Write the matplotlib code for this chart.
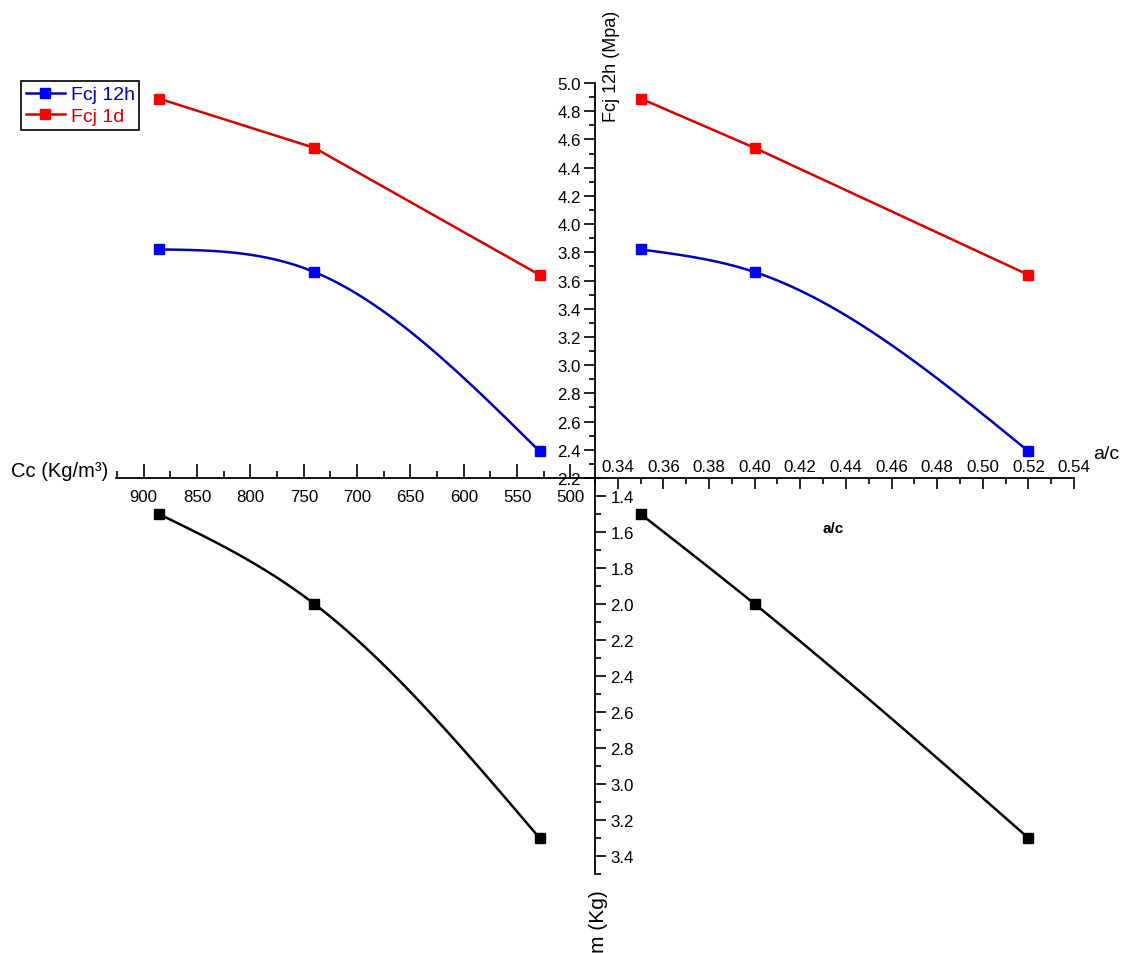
import numpy as np
import matplotlib
matplotlib.use('Agg')
import matplotlib.pyplot as plt
from matplotlib.lines import Line2D
from matplotlib.ticker import MultipleLocator, FormatStrFormatter

plt.rcParams['font.family'] = ['Liberation Sans', 'DejaVu Sans']

# values
ac = [0.35, 0.40, 0.52]          # a/c ratio
cc = [886, 740, 529]             # Cc (Kg/m3)
fcj_12h = [3.82, 3.66, 2.39]     # Mpa
fcj_1d = [4.89, 4.54, 3.64]      # Mpa
mass = [1.50, 2.00, 3.30]        # m (Kg)

ac_lim = (0.33, 0.54)
cc_lim = (926, 477)
fcj_lim = (2.2, 5.0)
m_lim = (3.5, 1.3)

BLUE, BLUE_M = '#0000b8', '#0000ff'
RED, RED_M = '#d40000', '#ff0000'
TICK_FS = 12.2
W, H = 1129, 954


def spline(x, y, n=80):
    # natural cubic spline through the points, like Origin's "Spline" connect
    x = np.asarray(x, float)
    y = np.asarray(y, float)
    order = np.argsort(x)
    x, y = x[order], y[order]
    h = np.diff(x)
    k = len(x)
    A = np.zeros((k, k))
    b = np.zeros(k)
    A[0, 0] = A[-1, -1] = 1
    for i in range(1, k - 1):
        A[i, i - 1] = h[i - 1]
        A[i, i] = 2 * (h[i - 1] + h[i])
        A[i, i + 1] = h[i]
        b[i] = 6 * ((y[i + 1] - y[i]) / h[i] - (y[i] - y[i - 1]) / h[i - 1])
    M = np.linalg.solve(A, b)
    xs = np.linspace(x[0], x[-1], n)
    i = np.clip(np.searchsorted(x, xs) - 1, 0, k - 2)
    t1 = x[i + 1] - xs
    t0 = xs - x[i]
    hi = h[i]
    ys = ((M[i] * t1**3 + M[i + 1] * t0**3) / (6 * hi)
          + (y[i] / hi - M[i] * hi / 6) * t1
          + (y[i + 1] / hi - M[i + 1] * hi / 6) * t0)
    return xs, ys


fig = plt.figure(figsize=(W / 100, H / 100), dpi=100)
fig.patch.set_facecolor('white')


def box(x0, y0, x1, y1):
    # pixel box (top-left origin) -> axes
    ax = fig.add_axes([x0 / W, 1 - y1 / H, (x1 - x0) / W, (y1 - y0) / H])
    ax.patch.set_visible(False)
    for s in ax.spines.values():
        s.set_visible(False)
        s.set_linewidth(1.3)
    ax.tick_params(which='both', bottom=False, top=False, left=False, right=False,
                   labelbottom=False, labeltop=False, labelleft=False, labelright=False,
                   width=1.2, labelsize=TICK_FS)
    return ax


def px(x, y):
    return x / W, 1 - y / H


cx, cy = 595, 479
tl = box(116, 84, cx, cy)
tr = box(cx, 84, 1074, cy)
bl = box(116, cy, cx, 875)
br = box(cx, cy, 1074, 875)

for ax in (tl, bl):
    ax.set_xlim(*cc_lim)
for ax in (tr, br):
    ax.set_xlim(*ac_lim)
for ax in (tl, tr):
    ax.set_ylim(*fcj_lim)
for ax in (bl, br):
    ax.set_ylim(*m_lim)

# top-right: Fcj vs a/c
tr.spines['left'].set_visible(True)
tr.spines['top'].set_visible(True)
tr.spines['top'].set_position(('axes', 0))
tr.xaxis.set_major_locator(MultipleLocator(0.02))
tr.xaxis.set_minor_locator(MultipleLocator(0.01))
tr.xaxis.set_major_formatter(FormatStrFormatter('%.2f'))
tr.tick_params(axis='x', which='both', top=True, labeltop=True, direction='in', pad=3)
tr.tick_params(axis='x', which='major', length=8)
tr.tick_params(axis='x', which='minor', length=4)
tr.yaxis.set_major_locator(MultipleLocator(0.2))
tr.yaxis.set_minor_locator(MultipleLocator(0.1))
tr.yaxis.set_major_formatter(FormatStrFormatter('%.1f'))
tr.tick_params(axis='y', which='both', left=True, labelleft=True, direction='out', pad=2)
tr.tick_params(axis='y', which='major', length=8)
tr.tick_params(axis='y', which='minor', length=4)

# top-left: Cc axis
tl.spines['bottom'].set_visible(True)
tl.xaxis.set_major_locator(MultipleLocator(50))
tl.xaxis.set_minor_locator(MultipleLocator(25))
tl.tick_params(axis='x', which='both', bottom=True, labelbottom=True, direction='in', pad=8)
tl.tick_params(axis='x', which='major', length=10)
tl.tick_params(axis='x', which='minor', length=5)

# bottom-right: m axis
br.spines['right'].set_visible(True)
br.spines['right'].set_position(('axes', 0))
br.yaxis.set_major_locator(MultipleLocator(0.2))
br.yaxis.set_minor_locator(MultipleLocator(0.1))
br.yaxis.set_major_formatter(FormatStrFormatter('%.1f'))
br.tick_params(axis='y', which='both', right=True, labelright=True, direction='out', pad=3)
br.tick_params(axis='y', which='major', length=8)
br.tick_params(axis='y', which='minor', length=4)

# curves
mk = dict(marker='s', ms=6.5, ls='none', clip_on=False, zorder=4)
for ax, xv in ((tl, cc), (tr, ac)):
    ax.plot(*spline(xv, fcj_12h), color=BLUE, lw=1.8, clip_on=False)
    ax.plot(xv, fcj_12h, color=BLUE_M, **mk)
    ax.plot(xv, fcj_1d, color=RED, lw=1.8, clip_on=False)
    ax.plot(xv, fcj_1d, color=RED_M, **mk)
for ax, xv in ((bl, cc), (br, ac)):
    ax.plot(*spline(xv, mass), color='black', lw=1.8, clip_on=False)
    ax.plot(xv, mass, color='black', **mk)

# titles
fig.text(*px(108, 472), 'Cc (Kg/m³)', ha='right', va='center', fontsize=14.5)
fig.text(*px(612, 66), 'Fcj 12h (Mpa)', ha='center', va='center', rotation=90, fontsize=13)
fig.text(*px(1093, 455), 'a/c', ha='left', va='center', fontsize=14)
fig.text(*px(833, 529), 'a/c', ha='center', va='center', fontsize=11, fontweight='bold')
fig.text(*px(598, 890), 'm (Kg)', ha='center', va='top', rotation=90, fontsize=15)

handles = [Line2D([], [], color=BLUE, lw=1.8, marker='s', ms=6.5, mfc=BLUE_M, mec=BLUE_M),
           Line2D([], [], color=RED, lw=1.8, marker='s', ms=6.5, mfc=RED_M, mec=RED_M)]
leg = fig.legend(handles, ['Fcj 12h', 'Fcj 1d'], loc='upper left',
                 bbox_to_anchor=px(21, 82), borderaxespad=0, fancybox=False,
                 edgecolor='black', framealpha=1, labelcolor='linecolor', fontsize=14,
                 handlelength=2.0, handletextpad=0.3, borderpad=0.25, labelspacing=0.2)
leg.get_frame().set_linewidth(1.2)

fig.savefig('out.png', dpi=100)
